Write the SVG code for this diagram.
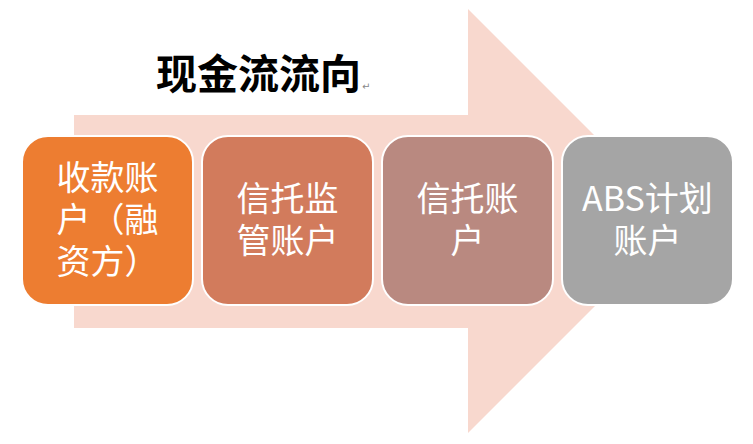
<svg xmlns="http://www.w3.org/2000/svg" width="753" height="444" viewBox="0 0 753 444">
  <style>
    .box { stroke: #FFFFFF; stroke-width: 2; }
    .lbl { font-family: "Noto Sans CJK SC", "Noto Sans", sans-serif; font-size: 34px; fill: #FFFFFF; text-anchor: middle; }
    .title { font-family: "Noto Sans CJK SC", "Noto Sans", sans-serif; font-size: 41px; font-weight: bold; fill: #000000; }
    .mark { font-family: "DejaVu Sans", sans-serif; font-size: 10px; fill: #888888; }
  </style>
  <rect width="753" height="444" fill="#FFFFFF"/>
  <g id="arrow">
    <polygon points="74,115 468,115 468,9 680,221 468,433 468,328 74,328" fill="#F8D8CE"/>
  </g>
  <g id="title">
    <text class="title" x="156" y="89">现金流流向</text>
    <text class="mark" x="362" y="90">↵</text>
  </g>
  <g id="connectors"></g>
  <g id="node1">
    <rect class="box" x="22" y="136" width="171" height="169" rx="26" fill="#ED7D31"/>
    <text class="lbl"><tspan x="107.5" y="190">收款账</tspan><tspan x="107.5" y="232">户（融</tspan><tspan x="107.5" y="274">资方）</tspan></text>
  </g>
  <g id="node2">
    <rect class="box" x="202" y="136" width="171" height="169" rx="26" fill="#D27B5C"/>
    <text class="lbl"><tspan x="287.5" y="211">信托监</tspan><tspan x="287.5" y="253">管账户</tspan></text>
  </g>
  <g id="node3">
    <rect class="box" x="382" y="136" width="171" height="169" rx="26" fill="#B98980"/>
    <text class="lbl"><tspan x="467.5" y="211">信托账</tspan><tspan x="467.5" y="253">户</tspan></text>
  </g>
  <g id="node4">
    <rect class="box" x="562" y="136" width="171" height="169" rx="26" fill="#A5A5A5"/>
    <text class="lbl"><tspan x="647.5" y="211">ABS计划</tspan><tspan x="647.5" y="253">账户</tspan></text>
  </g>
</svg>
